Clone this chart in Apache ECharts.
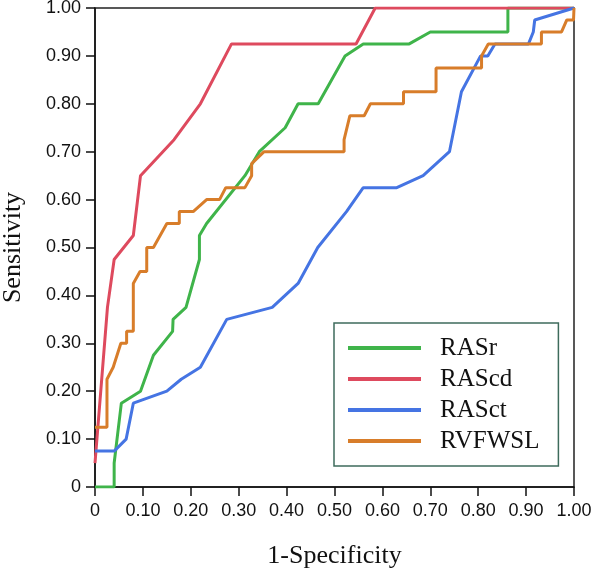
<!DOCTYPE html>
<html>
<head>
<meta charset="utf-8">
<script src="https://cdn.jsdelivr.net/npm/echarts@6/dist/echarts.min.js"></script>
<style>
  html, body { margin: 0; padding: 0; background: #fff; }
  #chart { width: 591px; height: 572px; }
</style>
</head>
<body>
<div id="chart"></div>
<script>
// ROC curves: x = 1-Specificity, y = Sensitivity
const seriesNames = ['RASr', 'RAScd', 'RASct', 'RVFWSL'];

const rasrX = [0, 0.04, 0.04, 0.055, 0.095, 0.122, 0.162, 0.163, 0.19, 0.218, 0.218, 0.233, 0.313, 0.343, 0.397, 0.424, 0.466, 0.522, 0.56, 0.656, 0.7, 0.862, 0.862, 1];
const rasrY = [0, 0, 0.05, 0.175, 0.2, 0.275, 0.325, 0.35, 0.375, 0.475, 0.525, 0.55, 0.65, 0.7, 0.75, 0.8, 0.8, 0.9, 0.925, 0.925, 0.95, 0.95, 1, 1];

const rascdX = [0, 0.026, 0.04, 0.08, 0.095, 0.165, 0.22, 0.285, 0.545, 0.585, 1];
const rascdY = [0.05, 0.375, 0.475, 0.525, 0.65, 0.725, 0.8, 0.925, 0.925, 1, 1];

const rasctX = [0, 0.04, 0.065, 0.08, 0.15, 0.18, 0.22, 0.275, 0.37, 0.424, 0.465, 0.525, 0.56, 0.63, 0.685, 0.74, 0.765, 0.805, 0.82, 0.835, 0.905, 0.915, 0.918, 1];
const rasctY = [0.075, 0.075, 0.1, 0.175, 0.2, 0.225, 0.25, 0.35, 0.375, 0.425, 0.5, 0.575, 0.625, 0.625, 0.65, 0.7, 0.825, 0.9, 0.9, 0.925, 0.925, 0.95, 0.975, 1];

const rvfwslX = [0, 0.025, 0.025, 0.038, 0.054, 0.066, 0.066, 0.08, 0.08, 0.094, 0.108, 0.108, 0.122, 0.15, 0.176, 0.176, 0.205, 0.233, 0.26, 0.273, 0.313, 0.327, 0.327, 0.353, 0.52, 0.52, 0.532, 0.562, 0.575, 0.644, 0.644, 0.712, 0.712, 0.807, 0.807, 0.821, 0.932, 0.932, 0.974, 0.985, 0.999, 1];
const rvfwslY = [0.125, 0.125, 0.225, 0.25, 0.3, 0.3, 0.325, 0.325, 0.425, 0.45, 0.45, 0.5, 0.5, 0.55, 0.55, 0.575, 0.575, 0.6, 0.6, 0.625, 0.625, 0.65, 0.675, 0.7, 0.7, 0.725, 0.775, 0.775, 0.8, 0.8, 0.825, 0.825, 0.875, 0.875, 0.9, 0.925, 0.925, 0.95, 0.95, 0.975, 0.975, 1];

const colors = ['#3fb44a', '#de4a5e', '#4574e3', '#d87d2a'];

const zip = (xs, ys) => xs.map((x, i) => [x, ys[i]]);
const curves = [zip(rasrX, rasrY), zip(rascdX, rascdY), zip(rasctX, rasctY), zip(rvfwslX, rvfwslY)];

const tickFmt = v => (v === 0 ? '0' : v.toFixed(2));

const axisCommon = {
  type: 'value',
  min: 0,
  max: 1,
  interval: 0.1,
  axisLine: { show: true, lineStyle: { color: '#111', width: 1.5 } },
  axisTick: { show: true, inside: false, length: 9, lineStyle: { color: '#111', width: 1.5 } },
  splitLine: { show: false },
  nameTextStyle: { fontFamily: 'Liberation Serif', fontSize: 26, color: '#111' },
};

const chart = echarts.init(document.getElementById('chart'));
chart.setOption({
  animation: false,
  color: colors,
  grid: {
    left: 95, right: 17, top: 8, bottom: 85,
    outerBoundsMode: 'none',
    containLabel: false,
    show: true, borderColor: '#222', borderWidth: 1.5
  },
  xAxis: Object.assign({}, axisCommon, {
    name: '1-Specificity',
    nameLocation: 'middle',
    nameGap: 56,
    axisLabel: { formatter: tickFmt, margin: 15, fontFamily: 'Liberation Sans', fontSize: 18, color: '#111' }
  }),
  yAxis: Object.assign({}, axisCommon, {
    name: 'Sensitivity',
    nameLocation: 'middle',
    nameGap: 69,
    axisLabel: { formatter: tickFmt, margin: 14, fontFamily: 'Liberation Sans', fontSize: 18, color: '#111' }
  }),
  legend: {
    orient: 'vertical',
    left: 334,
    top: 323,
    data: seriesNames,
    icon: 'rect',
    itemWidth: 73,
    itemHeight: 4,
    itemGap: 5,
    padding: [12, 19, 12, 14],
    borderColor: '#3e6b5c',
    borderWidth: 1.5,
    backgroundColor: '#fff',
    textStyle: {
      fontFamily: 'Liberation Serif',
      fontSize: 25,
      lineHeight: 26,
      color: '#111',
      padding: [0, 0, 0, 14]
    }
  },
  series: curves.map((d, i) => ({
    name: seriesNames[i],
    type: 'line',
    data: d,
    showSymbol: false,
    lineStyle: { width: 3 },
    z: 2 + i
  }))
});
</script>
</body>
</html>
